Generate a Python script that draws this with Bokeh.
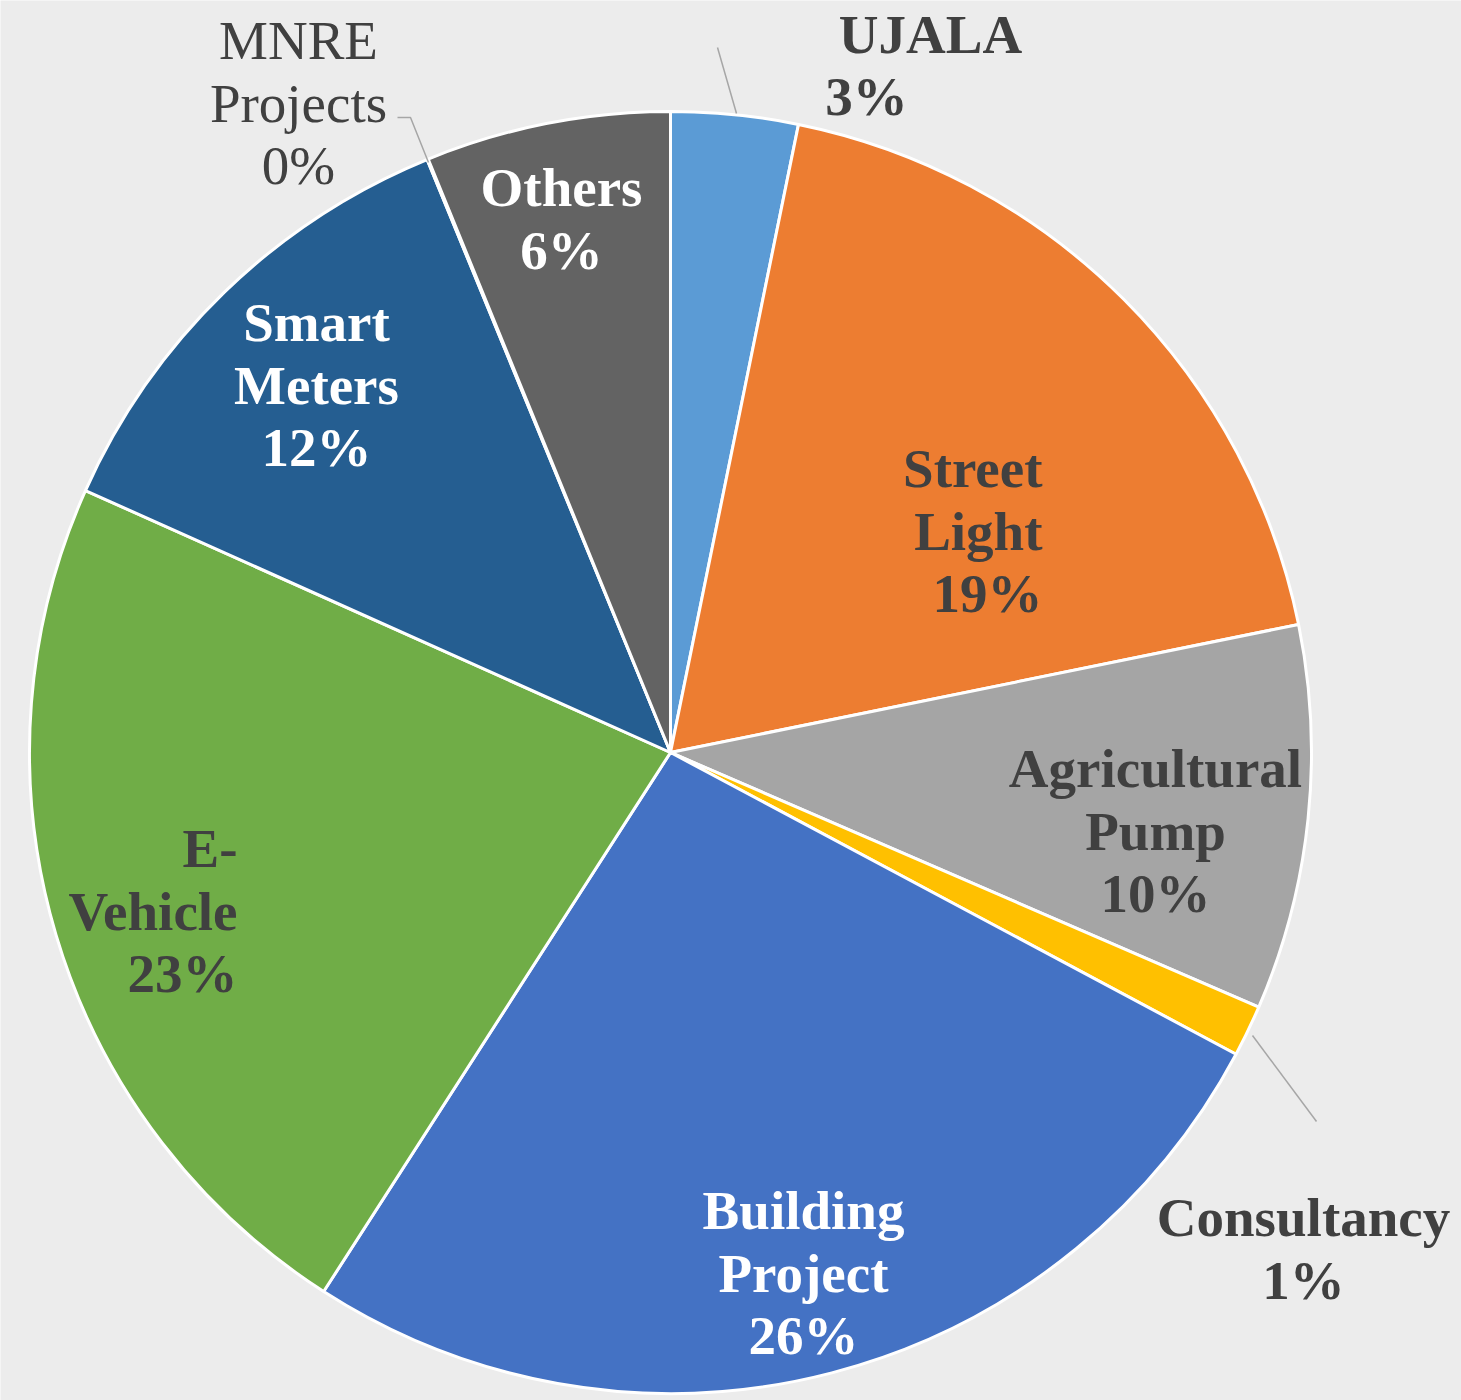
import math
from bokeh.plotting import figure
from bokeh.models import ColumnDataSource, Range1d
from bokeh.core.properties import value
from bokeh.embed import file_html
from bokeh.resources import INLINE

# ---------------- data ----------------
categories = ["UJALA", "Street Light", "Agricultural Pump", "Consultancy",
              "Building Project", "E-Vehicle", "Smart Meters", "MNRE Projects", "Others"]
label_lines = [["UJALA"], ["Street", "Light"], ["Agricultural", "Pump"], ["Consultancy"],
               ["Building", "Project"], ["E-", "Vehicle"], ["Smart", "Meters"],
               ["MNRE", "Projects"], ["Others"]]
shares = [3.2, 18.6, 9.7, 1.3, 26.3, 22.6, 12.1, 0.03, 6.17]
colors = ["#5B9BD5", "#ED7D31", "#A5A5A5", "#FFC000", "#4472C4",
          "#70AD47", "#255E91", "#9E480E", "#636363"]

# ---------------- layout / style ----------------
W, H = 1461, 1400
BG = "#ececec"
CX, CY = 670, 752          # pie centre (page px)
R = 641
DARK = "#404040"
FONT = "Liberation Serif"
FS = "55px"
LINE = 62.5

def py(Y):  # page y -> data y
    return H - Y

# label layout: (x, y of first line, align, color, bold), page px
label_layout = [
    (None, None, "center", DARK, True),        # UJALA handled specially
    (1042, 468, "right", DARK, True),
    (1155, 768, "center", DARK, True),
    (1303, 1217, "center", DARK, True),
    (803, 1210, "center", "white", True),
    (237, 848, "right", DARK, True),
    (316, 322, "center", "white", True),
    (298, 40, "center", DARK, False),
    (561, 187, "center", "white", True),
]

p = figure(width=W, height=H, x_range=Range1d(0, W), y_range=Range1d(0, H),
           output_backend="svg", toolbar_location=None, min_border=0,
           background_fill_color=BG, border_fill_color=BG, outline_line_color=None)
p.axis.visible = False
p.grid.visible = False

total = sum(shares)
starts, ends = [], []
c = 0.0
for v in shares:
    a0 = math.pi / 2 - c / total * 2 * math.pi
    c += v
    a1 = math.pi / 2 - c / total * 2 * math.pi
    starts.append(a0)
    ends.append(a1)

src = ColumnDataSource(dict(x=[CX] * len(shares), y=[py(CY)] * len(shares),
                            start=starts, end=ends, color=colors, cat=categories))
p.wedge(x="x", y="y", radius=R, start_angle="start", end_angle="end",
        direction="clock", fill_color="color", line_color="white", line_width=3,
        source=src)

# leader lines
p.line([736, 717], [py(113), py(47)], line_color="#a6a6a6", line_width=1.5)
p.line([428, 410, 397], [py(162), py(117), py(117)], line_color="#a6a6a6", line_width=1.5)
p.line([1252, 1316], [py(1035), py(1121)], line_color="#a6a6a6", line_width=1.5)

pcts = [f"{round(v / total * 100)}%" for v in shares]

groups = {}
def add(txt, x, Y, align, color, bold):
    key = (align, color, bold)
    g = groups.setdefault(key, dict(x=[], y=[], t=[]))
    g["x"].append(x)
    g["y"].append(py(Y))
    g["t"].append(txt)

for i, lines in enumerate(label_lines):
    x0, y0, align, color, bold = label_layout[i]
    if categories[i] == "UJALA":
        add(lines[0], 930, 34, "center", color, bold)
        add(pcts[i], 866, 96, "center", color, bold)
        continue
    allines = lines + [pcts[i]]
    for k, t in enumerate(allines):
        add(t, x0, y0 + k * LINE, align, color, bold)

for (align, color, bold), g in groups.items():
    p.text(x=g["x"], y=g["y"], text=g["t"], text_align=align, text_baseline="middle",
           text_font=value(FONT), text_font_size=FS,
           text_font_style="bold" if bold else "normal", text_color=color)

html = file_html(p, INLINE)
html = html.replace("<body>", f'<body style="background:{BG};">', 1)
open("out.html", "w").write(html)
